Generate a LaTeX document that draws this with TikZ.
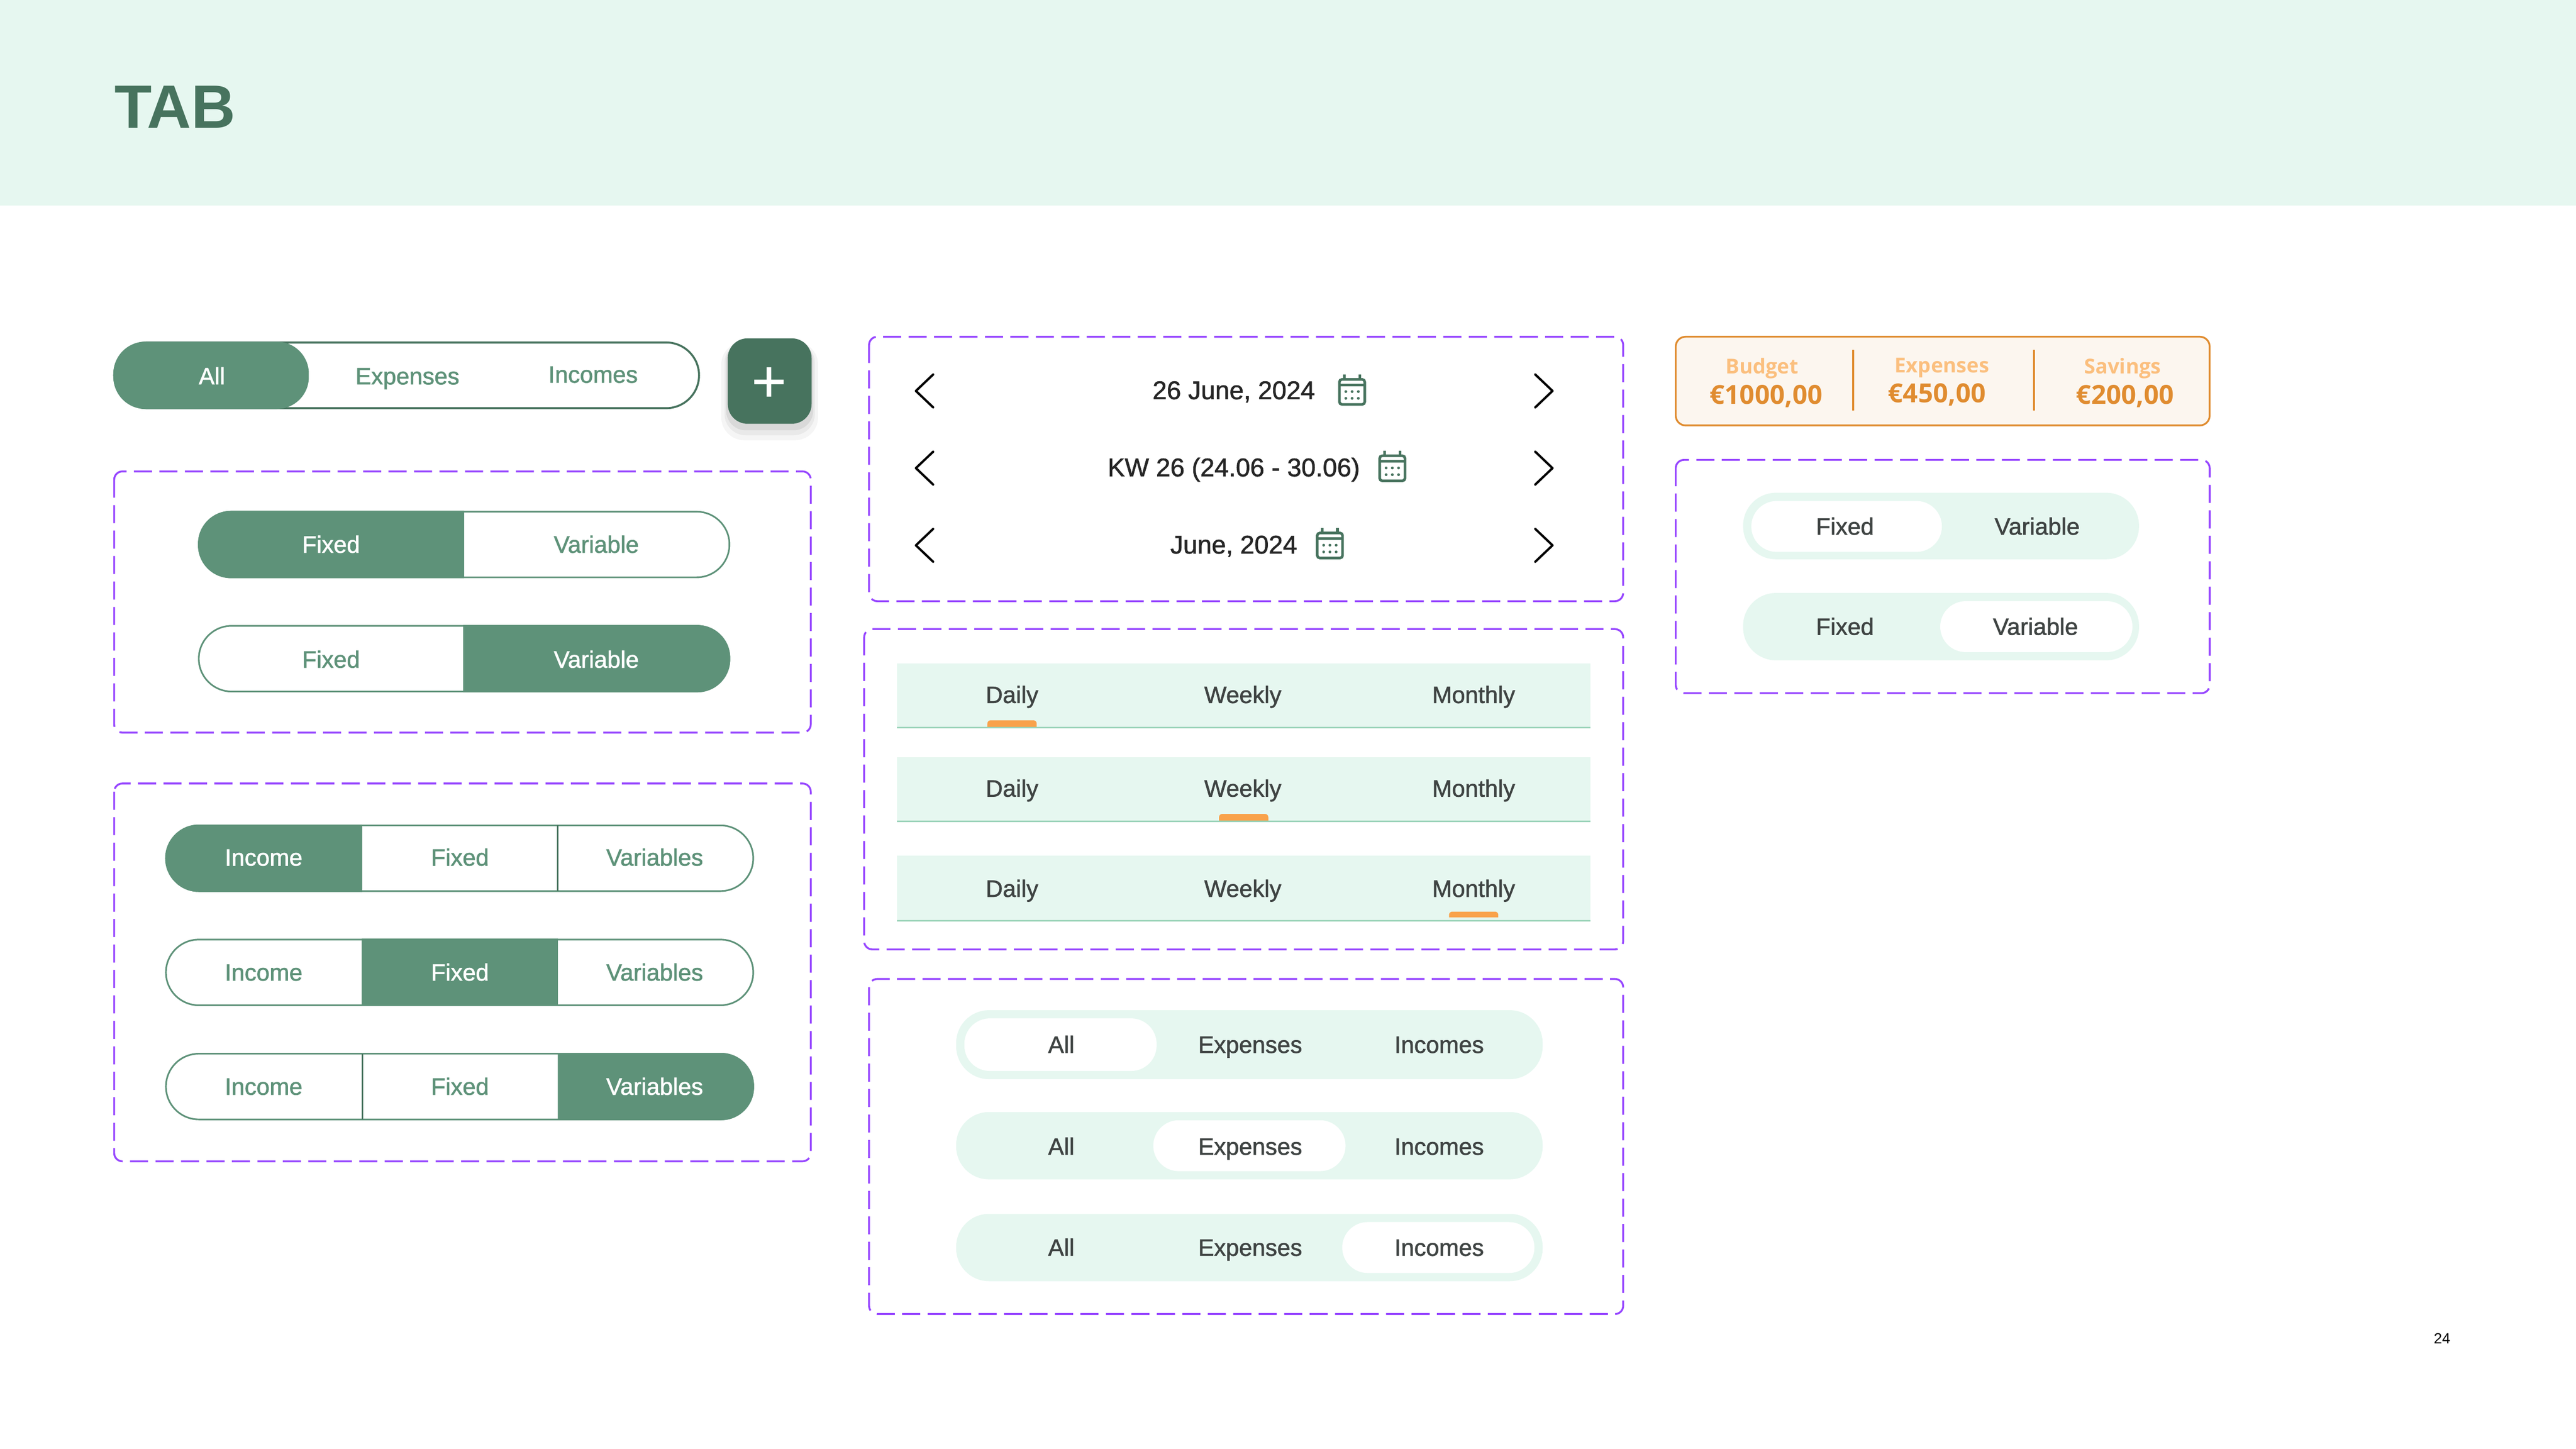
\documentclass[tikz,border=0pt]{standalone}
\usepackage{fontspec}
\setmainfont{Liberation Sans}
\newfontfamily\tabfont{Liberation Sans}[FakeBold=1.4]
\newfontfamily\headfont{Open Sans}
\usetikzlibrary{shadows}
\pgfdeclarelayer{edgelayer}
\pgfdeclarelayer{nodelayer}
\pgfsetlayers{edgelayer,nodelayer,main}
\definecolor{mint}{HTML}{E6F7F0}
\definecolor{darkgreen}{HTML}{47735E}
\definecolor{midgreen}{HTML}{5E9279}
\definecolor{linegreen}{HTML}{9AD3B9}
\definecolor{framepurple}{HTML}{9747FF}
\definecolor{inkgrey}{HTML}{3F4443}
\definecolor{deeporange}{HTML}{E08C30}
\definecolor{paleorange}{HTML}{FBBF7E}
\definecolor{markorange}{HTML}{F9A24B}
\definecolor{cream}{HTML}{FCF6EF}
\tikzstyle{header_band}=[fill=mint]
\tikzstyle{title_text}=[text=darkgreen,font={\bfseries\fontsize{37.2}{40}\selectfont},inner sep=0pt]
\tikzstyle{frame}=[draw=framepurple,line width=1.15pt,dash pattern=on 11pt off 4.5pt,rounded corners=5pt]
\tikzstyle{pill_line}=[draw=midgreen,line width=1pt,rounded corners=20pt]
\tikzstyle{pill_dark}=[draw=darkgreen,line width=1.2pt,rounded corners=20pt]
\tikzstyle{pill_fill}=[fill=midgreen]
\tikzstyle{seg_line}=[draw=darkgreen,line width=1pt]
\tikzstyle{soft_pill}=[fill=mint,rounded corners=20pt]
\tikzstyle{soft_knob}=[fill=white,rounded corners=15.5pt]
\tikzstyle{tab_bar}=[fill=mint]
\tikzstyle{tab_line}=[draw=linegreen,line width=1pt]
\tikzstyle{tab_mark}=[fill=markorange]
\tikzstyle{chevron}=[draw=black,line width=1.4pt,line join=round,line cap=round]
\tikzstyle{tab_label}=[font={\tabfont\fontsize{14.4}{16}\selectfont},inner sep=0pt,text height=13pt,text depth=3pt]
\tikzstyle{green_text}=[style=tab_label,text=midgreen]
\tikzstyle{white_text}=[style=tab_label,text=white]
\tikzstyle{grey_text}=[style=tab_label,text=inkgrey]
\tikzstyle{date_text}=[text=black!85,font={\tabfont\fontsize{15.6}{18}\selectfont},inner sep=0pt,text height=13pt,text depth=3pt]
\tikzstyle{budget_label}=[text=paleorange,font={\headfont\bfseries\fontsize{12.5}{14}\selectfont},inner sep=0pt,text height=12pt,text depth=3pt]
\tikzstyle{budget_value}=[text=deeporange,font={\headfont\bfseries\fontsize{16}{18}\selectfont},inner sep=0pt,text height=14pt,text depth=3pt]
\tikzstyle{budget_box}=[fill=cream,draw=deeporange,line width=1.1pt,rounded corners=6pt]
\tikzstyle{budget_rule}=[draw=deeporange,line width=1.1pt]
\tikzstyle{page_text}=[text=black,font={\fontsize{9}{10}\selectfont},inner sep=0pt]
\tikzset{calendar/.pic={
	\draw [draw=darkgreen,line width=1.6pt,rounded corners=1.5pt] (-7.7,-7) rectangle (7.7,8.2);
	\draw [draw=darkgreen,line width=1.6pt] (-7.7,-3.7) -- (7.7,-3.7);
	\draw [draw=darkgreen,line width=1.6pt] (-4.6,-10) -- (-4.6,-7);
	\draw [draw=darkgreen,line width=1.6pt] (4.6,-10) -- (4.6,-7);
	\foreach \px in {-3.8,0,3.8} {
		\foreach \py in {0.4,4.5} {
			\fill [darkgreen] (\px,\py) circle (0.85);
		}
	}
}}

\begin{document}
\begin{tikzpicture}[x=1pt,y=-1pt]
	\useasboundingbox (0,0) rectangle (1568,882);
	\begin{pgfonlayer}{edgelayer}
		\fill [style=header_band] (0,0) rectangle (1568,125);

		\fill [black,opacity=0.04,rounded corners=14pt] (439,208) rectangle (498,268);
		\fill [black,opacity=0.05,rounded corners=13pt] (441,208) rectangle (496,265);
		\fill [black,opacity=0.07,rounded corners=12pt] (442,208) rectangle (495,262);
		\fill [darkgreen,rounded corners=12pt] (443,206) rectangle (494,258);
		\draw [white,line width=2.6pt] (459,232.5) -- (477,232.5);
		\draw [white,line width=2.6pt] (468,223.5) -- (468,241.5);

		\draw [style=pill_dark] (69.5,208.5) rectangle (425.5,248.5);
		\fill [style=pill_fill,rounded corners=19.5pt] (69,208) rectangle (188,249);

		\draw [style=frame] (69.5,287) rectangle (493.5,446);
		\draw [style=pill_line] (121,311.5) rectangle (444,351.5);
		\fill [style=pill_fill] (282.5,311) -- (282.5,352) [rounded corners=20pt] -- (120.5,352) -- (120.5,311) [sharp corners] -- cycle;
		\draw [style=pill_line] (121,381) rectangle (444,421);
		\fill [style=pill_fill] (282,380.5) -- (282,421.5) [rounded corners=20pt] -- (444.5,421.5) -- (444.5,380.5) [sharp corners] -- cycle;

		\draw [style=frame] (69.5,477) rectangle (493.5,707);
		\draw [style=pill_line] (101,502.5) rectangle (458.5,542.5);
		\fill [style=pill_fill] (220.5,502) -- (220.5,543) [rounded corners=20pt] -- (101,543) -- (101,502) [sharp corners] -- cycle;
		\draw [style=seg_line] (339.5,502.5) -- (339.5,542.5);
		\draw [style=pill_line] (101,572) rectangle (458.5,612);
		\fill [style=pill_fill] (220,571.5) rectangle (339.5,612.5);
		\draw [style=pill_line] (101,641.5) rectangle (458.5,681.5);
		\fill [style=pill_fill] (339.5,641) -- (339.5,682) [rounded corners=20pt] -- (459,682) -- (459,641) [sharp corners] -- cycle;
		\draw [style=seg_line] (220.5,641.5) -- (220.5,681.5);

		\draw [style=frame] (529,205) rectangle (988,366);
		\draw [style=chevron] (568,228) -- (557.5,238) -- (568,248);
		\draw [style=chevron] (934.5,228) -- (945,238) -- (934.5,248);
		\draw [style=chevron] (568,275) -- (557.5,285) -- (568,295);
		\draw [style=chevron] (934.5,275) -- (945,285) -- (934.5,295);
		\draw [style=chevron] (568,322) -- (557.5,332) -- (568,342);
		\draw [style=chevron] (934.5,322) -- (945,332) -- (934.5,342);
		\pic at (823,238) {calendar};
		\pic at (847.5,284.5) {calendar};
		\pic at (809.5,331.5) {calendar};

		\draw [style=frame] (526,383) rectangle (988,578);
		\fill [style=tab_bar] (546,404) rectangle (968,443);
		\draw [style=tab_line] (546,443) -- (968,443);
		\fill [style=tab_mark] (601,442.5) [rounded corners=2pt] -- (601,438.5) -- (631,438.5) [sharp corners] -- (631,442.5) -- cycle;
		\fill [style=tab_bar] (546,461) rectangle (968,500);
		\draw [style=tab_line] (546,500) -- (968,500);
		\fill [style=tab_mark] (742,499.5) [rounded corners=2pt] -- (742,495.5) -- (772,495.5) [sharp corners] -- (772,499.5) -- cycle;
		\fill [style=tab_bar] (546,521) rectangle (968,560.5);
		\draw [style=tab_line] (546,560.5) -- (968,560.5);
		\fill [style=tab_mark] (882,558.5) [rounded corners=2pt] -- (882,555) -- (912,555) [sharp corners] -- (912,558.5) -- cycle;

		\draw [style=frame] (529,596) rectangle (988,800);
		\fill [style=soft_pill] (582,615) rectangle (939,657);
		\fill [style=soft_knob] (587,620) rectangle (704,652);
		\fill [style=soft_pill] (582,677) rectangle (939,718);
		\fill [style=soft_knob] (702,682) rectangle (819,713);
		\fill [style=soft_pill] (582,739) rectangle (939,780);
		\fill [style=soft_knob] (817,744) rectangle (934,775);

		\draw [style=budget_box] (1020,205) rectangle (1345,259);
		\draw [style=budget_rule] (1128,213) -- (1128,250);
		\draw [style=budget_rule] (1238,213) -- (1238,250);

		\draw [style=frame] (1020,280) rectangle (1345,422);
		\fill [style=soft_pill] (1061,300) rectangle (1302,340.5);
		\fill [style=soft_knob] (1066,305) rectangle (1182,336);
		\fill [style=soft_pill] (1061,361) rectangle (1302,402);
		\fill [style=soft_knob] (1181,366) rectangle (1298,397);
	\end{pgfonlayer}
	\begin{pgfonlayer}{nodelayer}
		\node [style={title_text}] (0) at (106.5,65) {TAB};
		\node [style={white_text}] (1) at (129,229) {All};
		\node [style={green_text}] (2) at (248,229) {Expenses};
		\node [style={green_text}] (3) at (361,228) {Incomes};

		\node [style={white_text}] (4) at (201.5,331.5) {Fixed};
		\node [style={green_text}] (5) at (363,331.5) {Variable};
		\node [style={green_text}] (6) at (201.5,401.5) {Fixed};
		\node [style={white_text}] (7) at (363,401.5) {Variable};

		\node [style={white_text}] (8) at (160.5,522) {Income};
		\node [style={green_text}] (9) at (280,522) {Fixed};
		\node [style={green_text}] (10) at (398.5,522) {Variables};
		\node [style={green_text}] (11) at (160.5,592) {Income};
		\node [style={white_text}] (12) at (280,592) {Fixed};
		\node [style={green_text}] (13) at (398.5,592) {Variables};
		\node [style={green_text}] (14) at (160.5,661.5) {Income};
		\node [style={green_text}] (15) at (280,661.5) {Fixed};
		\node [style={white_text}] (16) at (398.5,661.5) {Variables};

		\node [style={date_text}] (17) at (751,238) {26 June, 2024};
		\node [style={date_text}] (18) at (751,285) {KW 26 (24.06 - 30.06)};
		\node [style={date_text}] (19) at (751,332) {June, 2024};

		\node [style={grey_text}] (20) at (616,423) {Daily};
		\node [style={grey_text}] (21) at (756.5,423) {Weekly};
		\node [style={grey_text}] (22) at (897,423) {Monthly};
		\node [style={grey_text}] (23) at (616,480) {Daily};
		\node [style={grey_text}] (24) at (756.5,480) {Weekly};
		\node [style={grey_text}] (25) at (897,480) {Monthly};
		\node [style={grey_text}] (26) at (616,541) {Daily};
		\node [style={grey_text}] (27) at (756.5,541) {Weekly};
		\node [style={grey_text}] (28) at (897,541) {Monthly};

		\node [style={grey_text}] (29) at (646,636) {All};
		\node [style={grey_text}] (30) at (761,636) {Expenses};
		\node [style={grey_text}] (31) at (876,636) {Incomes};
		\node [style={grey_text}] (32) at (646,698) {All};
		\node [style={grey_text}] (33) at (761,698) {Expenses};
		\node [style={grey_text}] (34) at (876,698) {Incomes};
		\node [style={grey_text}] (35) at (646,759.5) {All};
		\node [style={grey_text}] (36) at (761,759.5) {Expenses};
		\node [style={grey_text}] (37) at (876,759.5) {Incomes};

		\node [style={budget_label}] (38) at (1072.5,223) {Budget};
		\node [style={budget_value}] (39) at (1075,240.5) {€1000,00};
		\node [style={budget_label}] (40) at (1182,222.5) {Expenses};
		\node [style={budget_value}] (41) at (1179,239.5) {€450,00};
		\node [style={budget_label}] (42) at (1292,223) {Savings};
		\node [style={budget_value}] (43) at (1293.5,240.5) {€200,00};

		\node [style={grey_text}] (44) at (1123,320.5) {Fixed};
		\node [style={grey_text}] (45) at (1240,320.5) {Variable};
		\node [style={grey_text}] (46) at (1123,381.5) {Fixed};
		\node [style={grey_text}] (47) at (1239,381.5) {Variable};

		\node [style={page_text}] (48) at (1486.5,815) {24};
	\end{pgfonlayer}
\end{tikzpicture}
\end{document}
